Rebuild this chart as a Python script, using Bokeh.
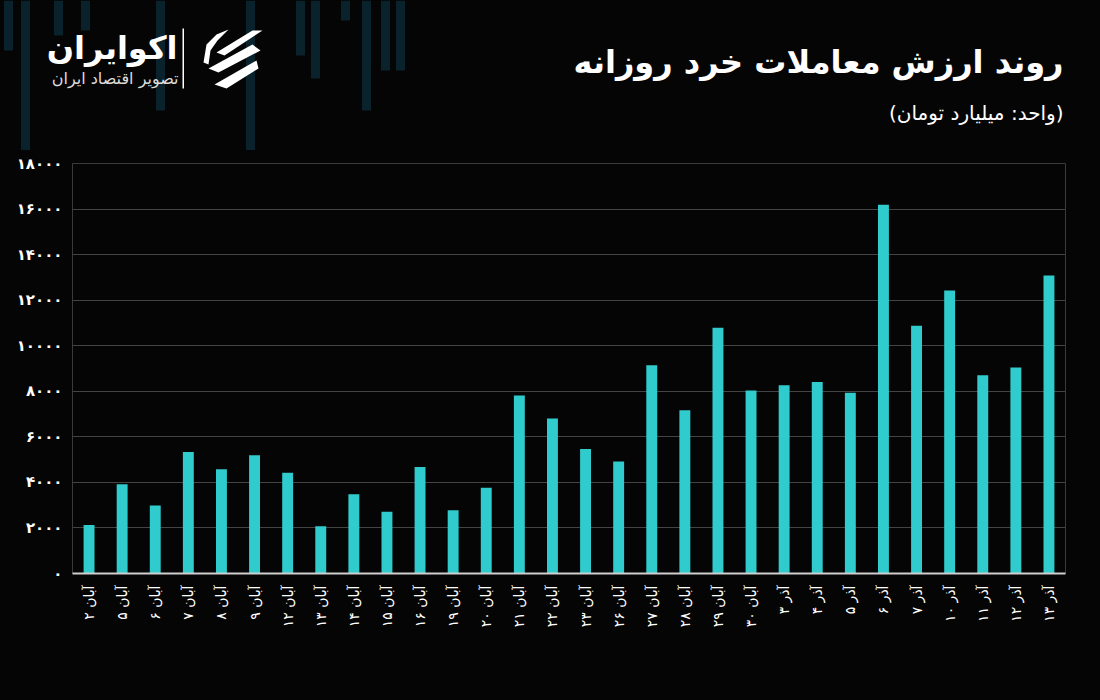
from bokeh.plotting import figure
from bokeh.layouts import column
from bokeh.models import ColumnDataSource, Range1d, FactorRange, FixedTicker
from bokeh.core.properties import value
from bokeh.embed import file_html
from bokeh.resources import INLINE
import math

# ---- data ----
dates = ["آبان ۲", "آبان ۵", "آبان ۶", "آبان ۷", "آبان ۸", "آبان ۹", "آبان ۱۲", "آبان ۱۳",
         "آبان ۱۴", "آبان ۱۵", "آبان ۱۶", "آبان ۱۹", "آبان ۲۰", "آبان ۲۱", "آبان ۲۲", "آبان ۲۳",
         "آبان ۲۶", "آبان ۲۷", "آبان ۲۸", "آبان ۲۹", "آبان ۳۰", "آذر ۳", "آذر ۴", "آذر ۵",
         "آذر ۶", "آذر ۷", "آذر ۱۰", "آذر ۱۱", "آذر ۱۲", "آذر ۱۳"]
values = [2130, 3920, 2980, 5330, 4580, 5190, 4420, 2070,
          3480, 2710, 4680, 2780, 3760, 7810, 6800, 5470,
          4920, 9140, 7170, 10790, 8030, 8260, 8410, 7940,
          16190, 10880, 12425, 8700, 9040, 13080]
y_ticks = [0, 2000, 4000, 6000, 8000, 10000, 12000, 14000, 16000, 18000]
y_tick_labels = ["۰", "۲۰۰۰", "۴۰۰۰", "۶۰۰۰", "۸۰۰۰", "۱۰۰۰۰", "۱۲۰۰۰", "۱۴۰۰۰", "۱۶۰۰۰", "۱۸۰۰۰"]

title_text = "روند ارزش معاملات خرد روزانه"
unit_text = "(واحد: میلیارد تومان)"
brand_text = "اکوایران"
brand_sub = "تصویر اقتصاد ایران"

BG = "#050505"
BAR = "#30CBCC"
FONT = "DejaVu Sans"
HEADER_H = 150

# ---------------- header (title, unit, brand) ----------------
h = figure(frame_width=1100, frame_height=HEADER_H, x_range=Range1d(0, 1100),
           y_range=Range1d(HEADER_H, 0), x_axis_type=None, y_axis_type=None,
           output_backend="svg", toolbar_location=None, min_border=0,
           background_fill_color=BG, border_fill_color=BG, outline_line_color=None)
h.grid.visible = False

# faint decorative stripes behind the brand
stripe_x = [8, 25, 58, 85, 160, 250, 300, 315, 345, 366, 385, 400]
stripe_bottom = [50, 185, 35, 30, 110, 185, 55, 78, 20, 110, 70, 70]
h.vbar(x=stripe_x, top=0, bottom=stripe_bottom, width=9, color="#0a222b", line_color=None)

h.text(x=[1063], y=[61], text=[title_text], text_align="right", text_baseline="middle",
       text_color="white", text_font=value(FONT), text_font_style="bold", text_font_size="32px")
h.text(x=[1063], y=[112], text=[unit_text], text_align="right", text_baseline="middle",
       text_color="white", text_font=value(FONT), text_font_size="20px")
h.text(x=[177], y=[47], text=[brand_text], text_align="right", text_baseline="middle",
       text_color="white", text_font=value(FONT), text_font_style="bold", text_font_size="32px")
h.text(x=[178], y=[78], text=[brand_sub], text_align="right", text_baseline="middle",
       text_color="#dddddd", text_font=value(FONT), text_font_size="16px")

# separator + icon
icon_xs = [[182, 183.5, 183.5, 182],
           [216, 252, 262, 224],
           [208, 252, 260, 218],
           [214, 256, 258, 226],
           [203, 206, 216, 228, 217, 210, 208]]
icon_ys = [[28, 28, 88, 88],
           [52, 30, 30, 55],
           [68, 44, 50, 72],
           [84, 60, 68, 88],
           [62, 44, 34, 29, 40, 50, 64]]
h.patches(xs=icon_xs, ys=icon_ys, fill_color="white", line_color=None)

# ---------------- chart ----------------
source = ColumnDataSource(dict(date=dates, value=values))

p = figure(x_range=FactorRange(*dates, range_padding=0), y_range=Range1d(0, 18000),
           frame_width=993, frame_height=410,
           min_border_left=72, min_border_right=35, min_border_top=163 - HEADER_H,
           min_border_bottom=127,
           output_backend="svg", toolbar_location=None,
           background_fill_color=BG, border_fill_color=BG)

p.vbar(x="date", top="value", width=0.33, source=source, color=BAR, line_color=None)

p.outline_line_color = "#3a3a3a"
p.outline_line_width = 1

p.xgrid.grid_line_color = None
p.ygrid.grid_line_color = "#444444"
p.ygrid.grid_line_width = 1
p.yaxis.ticker = FixedTicker(ticks=y_ticks)
p.yaxis.major_label_overrides = {t: l for t, l in zip(y_ticks, y_tick_labels)}
p.yaxis.axis_line_color = None
p.yaxis.major_tick_line_color = None
p.yaxis.minor_tick_line_color = None
p.yaxis.major_label_standoff = 4
p.yaxis.major_label_text_color = "white"
p.yaxis.major_label_text_font = FONT
p.yaxis.major_label_text_font_size = "15px"
p.yaxis.major_label_text_font_style = "bold"

p.xaxis.axis_line_color = "#cfcfcf"
p.xaxis.axis_line_width = 2
p.xaxis.major_tick_line_color = None
p.xaxis.minor_tick_line_color = None
p.xaxis.major_label_orientation = math.pi / 2
p.xaxis.major_label_standoff = 6
p.xaxis.major_label_text_color = "white"
p.xaxis.major_label_text_font = FONT
p.xaxis.major_label_text_font_size = "14px"

layout = column(column(h), p, spacing=0, styles={"background-color": BG})
open("out.html", "w").write(file_html(layout, INLINE))
